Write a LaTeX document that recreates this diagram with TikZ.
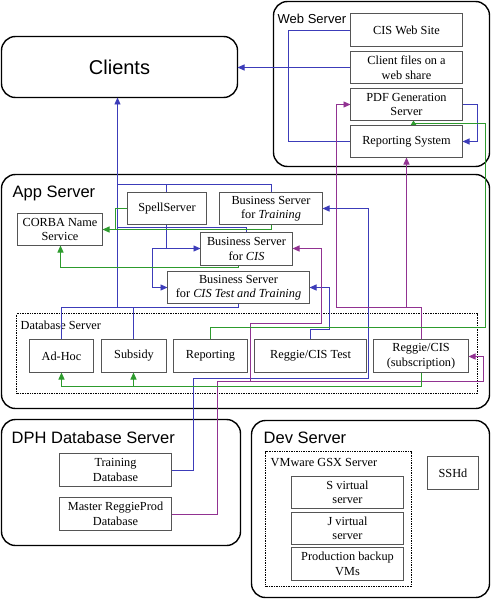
\documentclass[tikz,border=0pt]{standalone}
\usepackage{fontspec}
\setmainfont{Liberation Serif}
\newfontfamily\sansf{Liberation Sans}
\usetikzlibrary{arrows.meta}
\definecolor{bl}{RGB}{60,60,185}
\definecolor{pu}{RGB}{145,50,145}
\definecolor{gr}{RGB}{45,155,45}
\definecolor{bxc}{RGB}{85,85,85}
\tikzset{
 bx/.style={draw=bxc, line width=1pt, fill=white, inner sep=0pt, align=center, font=\fontsize{12.3}{14.5}\selectfont},
 grp/.style={draw=black, line width=1.4pt, rounded corners=14pt, inner sep=0pt},
 dgrp/.style={draw=black, line width=0.7pt, densely dotted, inner sep=0pt},
 glab/.style={font=\sansf\fontsize{16.5}{18}\selectfont, anchor=west, inner sep=0pt},
 slab/.style={font=\fontsize{12.3}{14}\selectfont, anchor=west, inner sep=0pt},
 cb/.style={draw=bl, line width=0.9pt},
 cp/.style={draw=pu, line width=0.9pt},
 cg/.style={draw=gr, line width=0.9pt},
 tip/.style={-{Triangle[length=7pt,width=6pt]}},
 stip/.style={-{Triangle[length=5pt,width=6pt]}},
}
\begin{document}
\begin{tikzpicture}[x=1pt,y=-1pt]
\useasboundingbox (0,0) rectangle (491,599);
\begin{scope}[shift={(0.5,0.5)}]
% groups
\node[grp, minimum width=216pt, minimum height=165pt] (web) at (381,83.5) {};
\node[grp, minimum width=236pt, minimum height=61pt, font=\sansf\fontsize{20}{22}\selectfont] (clients) at (119,66.5) {Clients};
\node[grp, minimum width=488pt, minimum height=234pt] (app) at (245,291) {};
\node[grp, minimum width=239pt, minimum height=126pt] (dph) at (120.5,482) {};
\node[grp, minimum width=238pt, minimum height=177pt] (dev) at (370,508.5) {};
\node[dgrp, minimum width=461pt, minimum height=80pt] (dbs) at (246.5,353) {};
\node[dgrp, minimum width=146pt, minimum height=135pt] (vmw) at (338,518.5) {};
% group labels
\node[glab, font=\sansf\fontsize{13}{15}\selectfont] (lweb) at (277,18) {Web Server};
\node[glab] (lapp) at (12,193) {App Server};
\node[glab] (ldph) at (11,437) {DPH Database Server};
\node[glab] (ldev) at (263,437) {Dev Server};
\node[slab] (ldbs) at (20,325) {Database Server};
\node[slab] (lvmw) at (270,462) {VMware GSX Server};
% connectors blue
\coordinate (tr) at (117,307);
\draw[cb] (350,30) -- (288,30) -- (288,141) -- (350,141);
\draw[cb,tip] (350,67) -- (237,67);
\draw[cb,tip] (462,104) -- (477,104) -- (477,141) -- (462,141);
\draw[cb,tip] (tr) -- (117,97);
\draw[cb] (117,184) -| (271,192);
\draw[cb] (166,184) -- (166,192);
\draw[cb] (117,227) -| (246,232);
\draw[cb] (61,339) |- (238,307) -- (238,303);
\draw[cb] (133,339) -- (133,307);
\draw[cb,tip] (166,224) |- (200,248);
\draw[cb,tip] (166,248) -- (152,248) |- (167,287);
\draw[cb,tip] (310,339) -- (310,329) -- (329,329) |- (309,287);
\draw[cb,tip] (171,470) -- (193,470) -- (193,378) -- (368,378) |- (322,208);
% purple
\draw[cp,tip] (171,514) -- (217,514) -- (217,381) -- (483,381) |- (468,356);
\draw[cp,tip] (250,381) -- (250,323) -- (321,323) |- (292,248);
\draw[cp,tip] (421,339) -- (421,307) -- (336,307) |- (350,104);
\draw[cp,tip] (406,307) -- (406,157);
% green
\draw[cg,tip] (271,224) -- (271,229) -- (102,229);
\draw[cg] (127,208) -- (115,208) -- (115,229);
\draw[cg,tip] (238,265) -- (238,267) -| (60,245);
\draw[cg] (210,339) -- (210,327) -- (485,327) -- (485,123) -- (413,123);
\draw[cg,stip] (413,123) -- (413,120);
\draw[cg,tip] (421,372) -- (421,386) -| (61,372);
\draw[cg,tip] (133,386) -- (133,372);
% boxes
\node[bx, minimum width=112pt, minimum height=33pt] (cisweb) at (406,29.5) {CIS Web Site};
\node[bx, minimum width=112pt, minimum height=32pt] (clientfiles) at (406,67) {Client files on a\\web share};
\node[bx, minimum width=112pt, minimum height=32pt] (pdfgen) at (406,104) {PDF Generation\\Server};
\node[bx, minimum width=112pt, minimum height=32pt] (reportsys) at (406,141) {Reporting System};
\node[bx, minimum width=79pt, minimum height=32pt] (spell) at (166.5,208) {SpellServer};
\node[bx, minimum width=103pt, minimum height=32pt] (bstrain) at (270.5,208) {Business Server\\for \textit{Training}};
\node[bx, minimum width=85pt, minimum height=32pt] (corba) at (59.5,229) {CORBA Name\\Service};
\node[bx, minimum width=92pt, minimum height=33pt] (bscis) at (246,248.5) {Business Server\\for \textit{CIS}};
\node[bx, minimum width=142pt, minimum height=32pt] (bstest) at (238,287) {Business Server\\for \textit{CIS Test and Training}};
\node[bx, minimum width=64pt, minimum height=33pt] (adhoc) at (61,355.5) {Ad-Hoc};
\node[bx, minimum width=65pt, minimum height=33pt] (subsidy) at (133.5,355.5) {Subsidy};
\node[bx, minimum width=74pt, minimum height=33pt] (reporting) at (210,355.5) {Reporting};
\node[bx, minimum width=112pt, minimum height=33pt] (reggietest) at (310,355.5) {Reggie/CIS Test};
\node[bx, minimum width=95pt, minimum height=33pt] (reggiesub) at (420.5,355.5) {Reggie/CIS\\(subscription)};
\node[bx, minimum width=112pt, minimum height=33pt] (trainingdb) at (115,469.5) {Training\\Database};
\node[bx, minimum width=112pt, minimum height=33pt] (masterdb) at (115,513.5) {Master ReggieProd\\Database};
\node[bx, minimum width=112pt, minimum height=32pt] (svirt) at (347,492) {S virtual\\server};
\node[bx, minimum width=112pt, minimum height=32pt] (jvirt) at (347,528) {J virtual\\server};
\node[bx, minimum width=112pt, minimum height=33pt] (prodvm) at (347,563.5) {Production backup\\VMs};
\node[bx, minimum width=51pt, minimum height=33pt] (sshd) at (452.5,472.5) {SSHd};
\end{scope}
\end{tikzpicture}
\end{document}
